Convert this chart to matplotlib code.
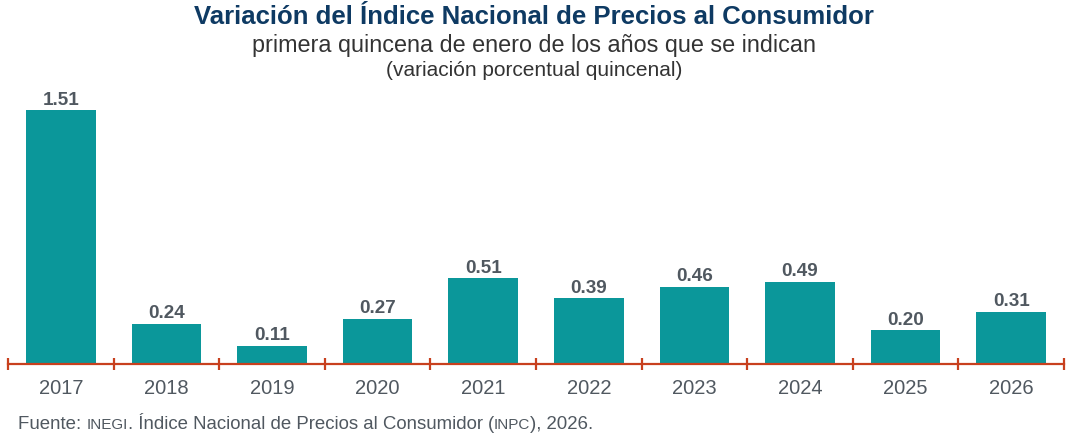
import numpy as np
import matplotlib.pyplot as plt

plt.rcParams['font.family'] = ['Liberation Sans', 'DejaVu Sans']

years = ['2017', '2018', '2019', '2020', '2021', '2022', '2023', '2024', '2025', '2026']
values = [1.51, 0.24, 0.11, 0.27, 0.51, 0.39, 0.46, 0.49, 0.20, 0.31]

bar_color = '#0B979A'
axis_color = '#C8401E'
text_gray = '#505860'
title_color = '#0E3A63'

fig = plt.figure(figsize=(10.68, 4.39), dpi=100)
ax = fig.add_axes([8 / 1068, 74 / 439, 1056 / 1068, 275 / 439])

x = np.arange(len(years))
ax.bar(x, values, width=0.66, color=bar_color, zorder=2)
for xi, v in zip(x, values):
    ax.text(xi, v + 0.015, f'{v:.2f}', ha='center', va='bottom',
            fontsize=13.6, fontweight='bold', color=text_gray)

ax.set_xlim(-0.5, len(years) - 0.5)
ax.set_ylim(0, 275 / 168)
for s in ['top', 'right', 'left']:
    ax.spines[s].set_visible(False)
ax.spines['bottom'].set_color(axis_color)
ax.spines['bottom'].set_linewidth(1.6)
ax.set_yticks([])
ax.set_xticks(x)
ax.set_xticklabels(years, fontsize=14.5, color=text_gray)
ax.tick_params(axis='x', which='major', length=0, pad=10)
ax.set_xticks(np.arange(-0.5, len(years)), minor=True)
ax.tick_params(axis='x', which='minor', direction='inout', length=8,
               width=1.6, color=axis_color)

fig.text(0.5, 0.962, 'Variación del Índice Nacional de Precios al Consumidor',
         ha='center', va='center', fontsize=18.5, fontweight='bold', color=title_color)
fig.text(0.5, 0.897, 'primera quincena de enero de los años que se indican',
         ha='center', va='center', fontsize=16.8, color='#333333')
fig.text(0.5, 0.84, '(variación porcentual quincenal)',
         ha='center', va='center', fontsize=15, color='#333333')

# source line with small caps pieces
parts = [('Fuente: ', 13.4), ('INEGI', 11), ('. Índice Nacional de Precios al Consumidor ', 13.4),
         ('(', 13.4), ('INPC', 11), ('), 2026.', 13.4)]
fig.canvas.draw()
renderer = fig.canvas.get_renderer()
xpos = 18 / 1068
for txt, fs in parts:
    t = fig.text(xpos, 10 / 439, txt, ha='left', va='baseline', fontsize=fs, color=text_gray)
    bb = t.get_window_extent(renderer)
    xpos += bb.width / fig.bbox.width

fig.savefig('out.png', dpi=100)
